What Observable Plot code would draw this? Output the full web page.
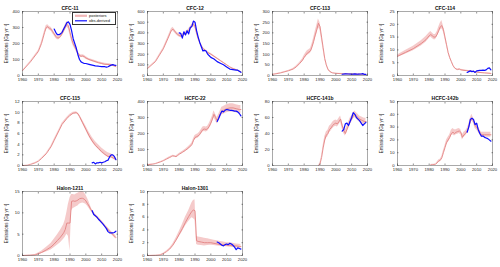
<!DOCTYPE html>
<html>
<head>
<meta charset="utf-8">
<script src="https://cdn.jsdelivr.net/npm/d3@7"></script>
<script src="https://cdn.jsdelivr.net/npm/@observablehq/plot@0.6"></script>
<style>
html,body{margin:0;padding:0;background:#fff;}
#wrap{position:relative;width:500px;height:267px;overflow:hidden;font-family:"Liberation Sans",Arial,sans-serif;}
.pan{position:absolute;}
#legend{position:absolute;left:72px;top:12px;width:44px;height:12.5px;border:0.6px solid #333;background:#fff;box-sizing:border-box;}
</style>
</head>
<body>
<div id="wrap"></div>
<script>
// ---------- data ----------
const xTicks = [1960, 1970, 1980, 1990, 2000, 2010, 2020];

const cfc11Years = [1960,1965,1970,1972,1974,1975,1976,1977,1978,1979,1980,1981,1982,1983,1984,1985,1986,1987,1988,1989,1990,1991,1992,1993,1994,1995,1996,1997,1998,1999,2000,2002,2005,2008,2010,2012,2015,2018,2019];
const cfc11Post = [30,85,150,200,270,300,305,295,290,275,260,245,235,235,245,260,280,300,320,310,270,230,200,180,160,140,125,120,122,118,110,100,90,80,75,70,68,60,55];
const cfc11Lo = [28,81,143,191,258,288,293,283,278,263,248,233,223,223,233,247,266,285,302,292,252,214,186,167,149,130,116,112,114,110,102,93,83,74,69,64,62,54,49];
const cfc11Hi = [32,89,157,209,282,312,317,307,302,287,272,257,247,247,257,273,294,315,338,328,288,246,214,193,171,150,134,128,130,126,118,107,97,86,81,76,74,66,61];
const cfc11ObsYears = [1980,1981,1982,1983,1984,1985,1986,1987,1988,1989,1990,1991,1992,1993,1994,1995,1996,1997,1998,1999,2000,2002,2004,2006,2008,2010,2012,2013,2014,2015,2016,2017,2018,2019];
const cfc11Obs = [290,270,255,255,260,270,290,310,330,335,320,280,230,200,170,130,100,85,80,75,75,70,65,60,58,55,55,52,55,60,65,68,65,63];
const cfc11Ticks = [0,100,200,300,400];

const cfc12Years = [1960,1965,1970,1973,1975,1976,1977,1978,1979,1980,1981,1982,1983,1984,1985,1986,1987,1988,1989,1990,1991,1992,1993,1994,1995,1996,1997,1998,2000,2002,2004,2006,2008,2010,2012,2014,2016,2018,2019];
const cfc12Post = [65,130,250,350,420,435,420,400,385,375,370,375,385,395,405,420,440,460,480,460,400,350,310,280,255,240,230,215,200,180,160,140,120,100,80,65,55,40,35];
const cfc12Lo = [62,125,240,336,403,418,403,384,370,360,355,360,370,379,389,403,422,442,461,442,384,336,298,269,245,230,221,206,192,173,154,134,115,96,77,62,53,38,33];
const cfc12Hi = [68,135,260,364,437,452,437,416,400,390,385,390,400,411,421,437,458,478,499,478,416,364,322,291,265,250,239,224,208,187,166,146,125,104,83,68,57,42,37];
const cfc12ObsYears = [1980,1981,1982,1983,1984,1985,1986,1987,1988,1989,1990,1991,1992,1993,1994,1995,1996,1997,1998,1999,2000,2002,2004,2006,2008,2010,2012,2014,2016,2017,2018,2019];
const cfc12Obs = [400,395,350,410,380,420,390,450,460,510,500,420,360,310,270,230,235,230,200,185,170,155,130,115,100,80,60,55,50,50,40,30];
const cfc12Ticks = [0,100,200,300,400,500,600];

const cfc113Years = [1960,1965,1970,1973,1975,1977,1979,1980,1981,1982,1983,1984,1985,1986,1987,1988,1989,1990,1991,1992,1993,1994,1995,1996,1997,1998,2000,2005,2010,2015,2019];
const cfc113Post = [5,12,22,30,40,55,72,85,95,105,110,115,135,160,190,215,245,230,180,130,80,50,30,20,15,12,10,8,7,6,5];
const cfc113Lo = [4,11,20,27,36,50,65,76,85,94,99,104,122,144,172,195,225,212,166,120,74,46,27,18,13,11,9,7,6,5,4];
const cfc113Hi = [6,13,24,33,44,60,79,94,105,116,121,127,149,176,208,235,265,248,194,140,86,54,33,22,17,13,11,9,8,7,6];
const cfc113ObsYears = [2004,2006,2008,2010,2012,2014,2016,2017,2018,2019];
const cfc113Obs = [6,8,7,6,8,6,7,9,5,5];
const cfc113Ticks = [0,50,100,150,200,250,300];

const cfc114Years = [1960,1965,1970,1975,1978,1980,1981,1982,1983,1984,1985,1986,1987,1988,1989,1990,1991,1992,1993,1994,1995,1996,1997,1998,1999,2000,2002,2005,2010,2015,2019];
const cfc114Post = [7.5,9,10.5,12.5,14,15.5,16,15.5,15,15,16,17.5,19,19.5,18,15,12,9,7,5.5,4,3,2.5,2.3,2.5,2.2,2,1.8,1.3,1.0,0.8];
const cfc114Lo = [7,8.3,9.7,11.5,13,14.5,15,14.5,14,14,15,16.3,17.7,18.3,17,14.2,11.4,8.6,6.6,5.2,3.8,2.8,2.3,2.1,2.3,2.0,1.8,1.6,1.1,0.9,0.7];
const cfc114Hi = [8,9.8,11.4,13.6,15.2,16.6,17.2,16.6,16,16,17.1,18.8,20.4,21.5,19.3,15.8,12.6,9.4,7.4,5.8,4.2,3.2,2.7,2.5,2.7,2.4,2.2,2.0,1.5,1.1,0.9];
const cfc114ObsYears = [2004,2005,2006,2007,2008,2009,2010,2011,2012,2013,2014,2015,2016,2017,2018,2019];
const cfc114Obs = [1.2,1.5,1.8,1.5,1.7,1.2,1.8,1.9,2.0,2.0,2.1,2.0,2.2,2.8,3.0,2.2];
const cfc114Ticks = [0,5,10,15,20,25];

const cfc115Years = [1960,1963,1965,1968,1970,1972,1975,1978,1980,1983,1985,1988,1990,1992,1994,1995,1996,1998,2000,2002,2004,2006,2008,2010,2012,2014,2016,2018,2019];
const cfc115Post = [0,0.05,0.2,0.5,0.8,1.3,2.2,3.5,4.7,6.5,7.7,8.8,9.4,9.8,9.9,9.7,9.2,8,6.8,5.6,4.6,3.8,3.2,2.6,2.1,1.7,1.6,1.3,1.1];
const cfc115Lo = [0,0.04,0.18,0.45,0.75,1.2,2.1,3.35,4.5,6.3,7.5,8.6,9.2,9.6,9.7,9.5,9.0,7.8,6.6,5.4,4.4,3.6,3.0,2.4,1.9,1.5,1.4,1.1,0.9];
const cfc115Hi = [0,0.06,0.22,0.55,0.85,1.4,2.3,3.65,4.9,6.7,7.9,9.0,9.6,10.0,10.1,9.9,9.5,8.5,7.4,6.3,5.3,4.5,3.9,3.3,2.8,2.4,2.2,1.8,1.4];
const cfc115ObsYears = [2004,2005,2006,2007,2008,2009,2010,2011,2012,2013,2014,2015,2016,2017,2018,2019];
const cfc115Obs = [0.5,0.6,0.3,0.5,0.5,0.6,0.5,0.6,0.7,0.9,1.0,1.6,2.0,2.0,1.7,1.1];
const cfc115Ticks = [0,2,4,6,8,10,12];

const hcfc22Years = [1960,1963,1965,1968,1970,1972,1974,1975,1976,1977,1978,1979,1980,1982,1984,1986,1988,1989,1990,1991,1992,1993,1994,1995,1996,1997,1998,1999,2000,2001,2002,2003,2004,2005,2006,2007,2008,2010,2012,2014,2016,2018,2019];
const hcfc22Post = [5,8,12,22,30,40,50,55,60,58,55,62,70,82,95,110,130,155,175,180,185,195,210,225,228,225,230,245,265,290,320,300,280,300,320,340,345,355,360,360,355,350,350];
const hcfc22Lo = [4,7,11,20,28,37,46,51,56,54,51,57,65,76,88,102,121,144,163,167,172,181,195,209,212,209,214,228,246,270,298,279,260,279,298,316,321,330,334,334,330,325,325];
const hcfc22Hi = [6,9,13,24,32,43,54,59,64,62,59,67,75,88,102,118,139,166,187,193,198,209,225,241,244,241,246,262,284,310,342,321,300,321,342,364,369,380,386,386,380,375,375];
const hcfc22ObsYears = [2004,2005,2006,2007,2008,2009,2010,2011,2012,2013,2014,2015,2016,2017,2018,2019];
const hcfc22Obs = [275,295,320,340,335,345,350,348,345,345,343,340,340,335,325,310];
const hcfc22Ticks = [0,100,200,300,400];

const hcfc141bYears = [1989,1990,1991,1992,1993,1994,1995,1996,1997,1998,1999,2000,2001,2002,2003,2004,2005,2006,2007,2008,2009,2010,2011,2012,2013,2014,2015,2016,2017,2018,2019];
const hcfc141bPost = [0,2,10,22,32,38,40,45,47,50,52,53,52,55,58,50,44,40,45,50,55,58,62,64,62,60,58,57,56,55,55];
const hcfc141bLo = [0,1,8,19,28,34,36,41,43,46,48,49,48,51,54,46,40,37,41,46,51,54,58,60,58,56,54,53,52,51,51];
const hcfc141bHi = [0,3,12,25,36,42,44,49,51,54,56,57,56,59,62,54,48,44,49,54,59,62,66,68,66,64,62,61,60,59,59];
const hcfc141bObsYears = [2004,2005,2006,2007,2008,2009,2010,2011,2012,2013,2014,2015,2016,2017,2018,2019];
const hcfc141bObs = [43,45,52,53,50,55,60,66,64,60,58,56,53,50,52,54];
const hcfc141bTicks = [0,20,40,60,80];

const hcfc142bYears = [1981,1982,1983,1984,1985,1986,1987,1988,1989,1990,1991,1992,1993,1994,1995,1996,1997,1998,1999,2000,2001,2002,2003,2004,2005,2006,2007,2008,2009,2010,2011,2012,2013,2014,2015,2016,2017,2018,2019];
const hcfc142bPost = [0.5,0.7,0.8,1,2,3.5,4,6,10,14,18,20,22,25,26,25,26,26.5,27,26,22,24,25,27,30,34,37,35,31,30,28,26,24,24,24,24,24,24,24];
const hcfc142bLo = [0.3,0.5,0.6,0.8,1.5,2.8,3.2,5,8.5,12.5,16,18,20,23,24,23,24,24.5,25,24,20,22,23,25,28,32,35,33,29,28,26,24,22,22,22,22,22,22,22];
const hcfc142bHi = [0.7,0.9,1,1.2,2.5,4.2,4.8,7,11.5,15.5,20,22,24,27.5,29,28,28,28.5,29,28,24,26,27,29,32,37,40,37,33,32,30,28,26,26,26,26,26,26,26];
const hcfc142bObsYears = [2004,2005,2006,2007,2008,2009,2010,2011,2012,2013,2014,2015,2016,2017,2018,2019];
const hcfc142bObs = [26,30,36,37,36,32,33,28,25,23,23,22,21.5,21,20,19];
const hcfc142bTicks = [0,10,20,30,40,50];

const h1211Years = [1960,1965,1968,1970,1972,1975,1978,1980,1982,1984,1986,1987,1988,1989,1990,1991,1992,1993,1994,1995,1996,1997,1998,1999,2000,2001,2002,2003,2004,2005,2006,2008,2010,2012,2014,2016,2018,2019];
const h1211Post = [0,0.05,0.15,0.4,0.7,1.3,2,2.7,3.5,4.3,5.3,6.1,7.6,7.6,7.6,12.7,12.8,12.7,12.8,13.0,13.3,13.4,13.4,13.2,12.8,12.2,11.6,10.9,10.3,9.8,9.3,8.6,7.8,6.9,6.1,5.3,4.6,4.2];
const h1211Lo = [0,0.02,0.08,0.2,0.4,0.8,1.3,1.8,2.4,3.0,3.8,4.3,5,4.5,1,10.5,11,11.2,11.4,11.6,12,12.2,12.3,12.2,12,11.6,11.1,10.5,10,9.5,9.0,8.3,7.5,6.6,5.8,5.0,4.2,3.8];
const h1211Hi = [0,0.1,0.25,0.6,1.0,1.9,2.8,3.8,4.8,5.9,7.2,8.3,10,12,13.5,14.3,14.3,14.2,14.4,14.6,14.8,15,15,14.7,14.2,13.4,12.6,11.6,10.7,10.2,9.7,9.0,8.2,7.3,6.5,5.7,5.0,4.6];
const h1211ObsYears = [2004,2005,2006,2007,2008,2009,2010,2011,2012,2013,2014,2015,2016,2017,2018,2019];
const h1211Obs = [10.5,9.6,9.3,9.0,8.5,8.1,7.7,7.3,6.8,6.3,5.6,5.3,5.3,5.3,5.4,5.7];
const h1211Ticks = [0,5,10,15];

const h1301Years = [1960,1965,1968,1970,1972,1974,1976,1978,1980,1982,1984,1986,1988,1989,1990,1991,1992,1994,1996,1998,2000,2002,2004,2006,2008,2010,2012,2014,2016,2018,2019];
const h1301Post = [0,0.02,0.1,0.3,0.6,1.0,1.6,2.4,3.3,4.2,5.2,6.1,6.9,7.1,7.0,2.3,2.2,2.1,2.0,2.0,2.0,1.9,1.8,1.7,1.7,1.6,1.6,1.5,1.5,1.4,1.4];
const h1301Lo = [0,0.01,0.08,0.25,0.5,0.85,1.4,2.1,2.9,3.7,4.6,5.3,5.9,5.8,5.5,1.7,1.6,1.55,1.5,1.55,1.6,1.55,1.5,1.45,1.4,1.35,1.3,1.25,1.2,1.15,1.1];
const h1301Hi = [0,0.03,0.12,0.35,0.7,1.15,1.8,2.7,3.7,4.8,6.0,7.0,8.2,8.6,8.7,3.0,2.9,2.8,2.7,2.6,2.5,2.4,2.3,2.2,2.1,2.0,2.0,1.9,1.8,1.75,1.7];
const h1301ObsYears = [2004,2005,2006,2007,2008,2009,2010,2011,2012,2013,2014,2015,2016,2017,2018,2019];
const h1301Obs = [2.1,2.0,1.8,1.6,1.5,1.7,1.8,1.7,1.9,1.8,1.6,1.3,0.9,1.2,1.1,1.0];
const h1301Ticks = [0,2,4,6,8,10];

const panels = [
  {title:"CFC-11", yr:cfc11Years, p:cfc11Post, lo:cfc11Lo, hi:cfc11Hi, oy:cfc11ObsYears, o:cfc11Obs, ticks:cfc11Ticks},
  {title:"CFC-12", yr:cfc12Years, p:cfc12Post, lo:cfc12Lo, hi:cfc12Hi, oy:cfc12ObsYears, o:cfc12Obs, ticks:cfc12Ticks},
  {title:"CFC-113", yr:cfc113Years, p:cfc113Post, lo:cfc113Lo, hi:cfc113Hi, oy:cfc113ObsYears, o:cfc113Obs, ticks:cfc113Ticks},
  {title:"CFC-114", yr:cfc114Years, p:cfc114Post, lo:cfc114Lo, hi:cfc114Hi, oy:cfc114ObsYears, o:cfc114Obs, ticks:cfc114Ticks},
  {title:"CFC-115", yr:cfc115Years, p:cfc115Post, lo:cfc115Lo, hi:cfc115Hi, oy:cfc115ObsYears, o:cfc115Obs, ticks:cfc115Ticks},
  {title:"HCFC-22", yr:hcfc22Years, p:hcfc22Post, lo:hcfc22Lo, hi:hcfc22Hi, oy:hcfc22ObsYears, o:hcfc22Obs, ticks:hcfc22Ticks},
  {title:"HCFC-141b", yr:hcfc141bYears, p:hcfc141bPost, lo:hcfc141bLo, hi:hcfc141bHi, oy:hcfc141bObsYears, o:hcfc141bObs, ticks:hcfc141bTicks},
  {title:"HCFC-142b", yr:hcfc142bYears, p:hcfc142bPost, lo:hcfc142bLo, hi:hcfc142bHi, oy:hcfc142bObsYears, o:hcfc142bObs, ticks:hcfc142bTicks},
  {title:"Halon-1211", yr:h1211Years, p:h1211Post, lo:h1211Lo, hi:h1211Hi, oy:h1211ObsYears, o:h1211Obs, ticks:h1211Ticks},
  {title:"Halon-1301", yr:h1301Years, p:h1301Post, lo:h1301Lo, hi:h1301Hi, oy:h1301ObsYears, o:h1301Obs, ticks:h1301Ticks}
];

const legendLabels = ["posteriors", "obs-derived"];

// ---------- drawing ----------
const BAND = "#f4c4c4", POST = "#e38383", OBS = "#0d0dff", AX = "#262626";
const FONT = "'Liberation Sans', Arial, sans-serif";
const wrap = document.getElementById("wrap");

panels.forEach((d, i) => {
  const post = d.yr.map((y, k) => ({year: y, v: d.p[k], lo: d.lo[k], hi: d.hi[k]}));
  const obs = d.oy.map((y, k) => ({year: y, v: d.o[k]}));
  const ymax = d.ticks[d.ticks.length - 1];
  const chart = Plot.plot({
    width: 125, height: 90,
    marginLeft: 22, marginRight: 8, marginTop: 11, marginBottom: 15,
    style: {fontFamily: FONT, fontSize: "4.2px", color: AX, background: "transparent", overflow: "visible"},
    x: {domain: [1960, 2020]},
    y: {domain: [0, ymax]},
    marks: [
      Plot.areaY(post, {x: "year", y1: "lo", y2: "hi", fill: BAND, fillOpacity: 0.9}),
      Plot.lineY(post, {x: "year", y: "v", stroke: POST, strokeWidth: 0.9}),
      Plot.lineY(obs, {x: "year", y: "v", stroke: OBS, strokeWidth: 1.2}),
      Plot.frame({stroke: "#555", strokeWidth: 0.5}),
      Plot.axisX({ticks: xTicks, tickFormat: "d", tickSize: -1.5, tickPadding: 4, label: null, fontSize: 4.2, strokeWidth: 0.5}),
      Plot.axisX({anchor: "top", ticks: xTicks, tickFormat: () => "", tickSize: -1.5, label: null, strokeWidth: 0.5}),
      Plot.axisY({ticks: d.ticks, tickSize: -1.5, tickPadding: 4.5, fontSize: 4.2, strokeWidth: 0.5,
        label: "Emissions [Gg yr⁻¹]", labelAnchor: "center", labelArrow: "none", labelOffset: 17.5}),
      Plot.axisY({anchor: "right", ticks: d.ticks, tickFormat: () => "", tickSize: -1.5, label: null, strokeWidth: 0.5}),
      Plot.text([d.title], {frameAnchor: "top", dy: -5.5, fontWeight: "bold", fontSize: 5, fill: "#111"})
    ]
  });
  chart.querySelectorAll("[aria-label='y-axis label'] text").forEach(t => t.setAttribute("font-size", "4.6"));
  const div = document.createElement("div");
  div.className = "pan";
  div.style.left = (i % 4) * 125 + "px";
  div.style.top = Math.floor(i / 4) * 90 + "px";
  div.appendChild(chart);
  wrap.appendChild(div);
});

// legend in CFC-11 panel
const leg = document.createElement("div");
leg.id = "legend";
leg.innerHTML = `<svg width="44" height="12.5" style="position:absolute;left:-0.6px;top:-0.6px;overflow:visible;font-family:${FONT};font-size:4px;">
<line x1="3" x2="15" y1="3.8" y2="3.8" stroke="${BAND}" stroke-width="2.4"/>
<line x1="3" x2="15" y1="3.8" y2="3.8" stroke="${POST}" stroke-width="0.6" stroke-opacity="0.5"/>
<text x="17" y="3.8" dy="0.35em" fill="#111">${legendLabels[0]}</text>
<line x1="3" x2="15" y1="8.8" y2="8.8" stroke="${OBS}" stroke-width="1.2"/>
<text x="17" y="8.8" dy="0.35em" fill="#111">${legendLabels[1]}</text>
</svg>`;
wrap.appendChild(leg);
</script>
</body>
</html>
